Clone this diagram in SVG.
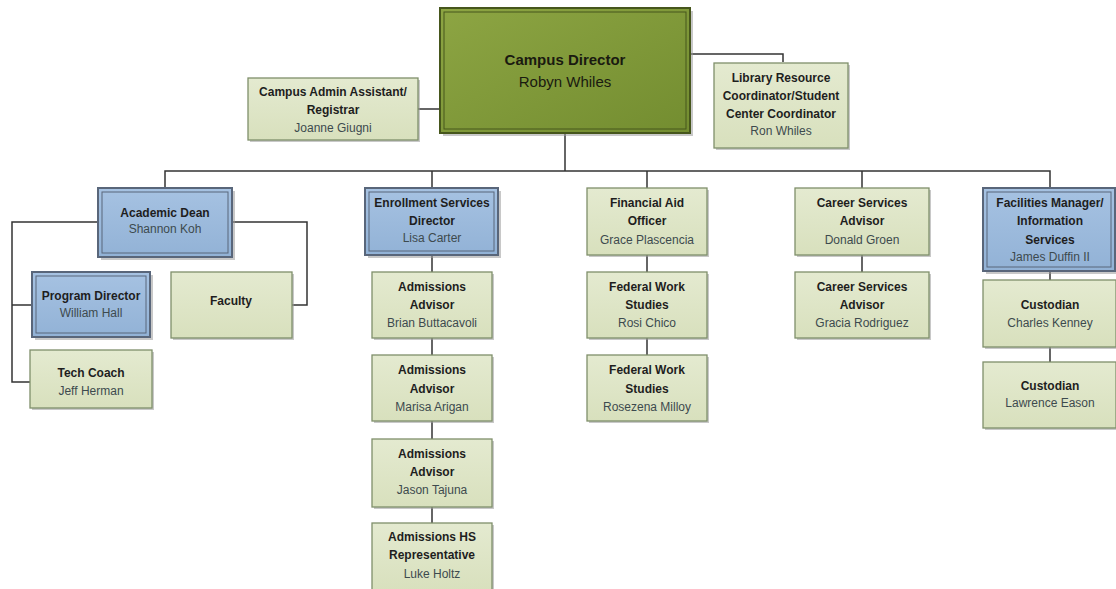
<svg xmlns="http://www.w3.org/2000/svg" width="1116" height="589" viewBox="0 0 1116 589">
<defs>
<linearGradient id="gOlive" x1="0" y1="0" x2="1" y2="1">
<stop offset="0" stop-color="#8da543"/>
<stop offset="1" stop-color="#738d30"/>
</linearGradient>
<linearGradient id="gGreen" x1="0" y1="0" x2="0" y2="1">
<stop offset="0" stop-color="#e4ead0"/>
<stop offset="1" stop-color="#d8e0bd"/>
</linearGradient>
<linearGradient id="gBlue" x1="0" y1="0" x2="0" y2="1">
<stop offset="0" stop-color="#a6c2e2"/>
<stop offset="1" stop-color="#92b2d6"/>
</linearGradient>
</defs>
<style>
.sh{fill:#9a9a9a;opacity:0.55}
.lg{fill:url(#gGreen);stroke:#7f8f6a;stroke-width:1.3}
.bl{fill:url(#gBlue);stroke:#59667a;stroke-width:2}
.blin{fill:none;stroke:#59667a;stroke-width:1}
.ol{fill:url(#gOlive);stroke:#46561c;stroke-width:2}
.olin{fill:none;stroke:#46561c;stroke-width:1}
.t{font-family:"Liberation Sans",Arial,sans-serif;font-size:12px;font-weight:bold;fill:#1e1e1e;text-anchor:middle}
.n{font-family:"Liberation Sans",Arial,sans-serif;font-size:12px;fill:#3d4a4e;text-anchor:middle}
.ct{font-family:"Liberation Sans",Arial,sans-serif;font-size:15px;font-weight:bold;fill:#1a1a10;text-anchor:middle}
.cn{font-family:"Liberation Sans",Arial,sans-serif;font-size:15px;fill:#1a1a10;text-anchor:middle}
.c{fill:none;stroke:#333;stroke-width:1.5}
</style>
<g id="connectors">
<polyline class="c" points="418,109 441,109"/>
<polyline class="c" points="690,54 783,54 783,62"/>
<polyline class="c" points="565,133 565,171"/>
<polyline class="c" points="165,188 165,171 1050,171 1050,188"/>
<polyline class="c" points="432,171 432,188"/>
<polyline class="c" points="647,171 647,188"/>
<polyline class="c" points="862,171 862,188"/>
<polyline class="c" points="98,222 12,222 12,382 30,382"/>
<polyline class="c" points="12,305 32,305"/>
<polyline class="c" points="232,222 307,222 307,305 292,305"/>
<polyline class="c" points="432,255 432,272"/>
<polyline class="c" points="432,338 432,355"/>
<polyline class="c" points="432,421 432,439"/>
<polyline class="c" points="432,507 432,523"/>
<polyline class="c" points="647,255 647,272"/>
<polyline class="c" points="647,338 647,355"/>
<polyline class="c" points="862,255 862,272"/>
<polyline class="c" points="1050,271 1050,280"/>
<polyline class="c" points="1050,347 1050,362"/>
</g>
<g id="campus-director">
<rect class="sh" x="443" y="11" width="250" height="125"/>
<rect class="ol" x="440" y="8" width="250" height="125"/>
<rect class="olin" x="444" y="12" width="242" height="117"/>
<text class="ct" x="565" y="65">Campus Director</text>
<text class="cn" x="565" y="87">Robyn Whiles</text>
</g>
<g id="admin-assistant">
<rect class="sh" x="250" y="80" width="170" height="62"/>
<rect class="lg" x="248" y="78" width="170" height="62"/>
<text class="t" x="333" y="96">Campus Admin Assistant/</text>
<text class="t" x="333" y="114">Registrar</text>
<text class="n" x="333" y="132">Joanne Giugni</text>
</g>
<g id="library">
<rect class="sh" x="716" y="65" width="134" height="85"/>
<rect class="lg" x="714" y="63" width="134" height="85"/>
<text class="t" x="781" y="82">Library Resource</text>
<text class="t" x="781" y="100">Coordinator/Student</text>
<text class="t" x="781" y="118">Center Coordinator</text>
<text class="n" x="781" y="135">Ron Whiles</text>
</g>
<g id="academic-dean">
<rect class="sh" x="101" y="191" width="134" height="69"/>
<rect class="bl" x="98" y="188" width="134" height="69"/>
<rect class="blin" x="102" y="192" width="126" height="61"/>
<text class="t" x="165" y="217">Academic Dean</text>
<text class="n" x="165" y="233">Shannon Koh</text>
</g>
<g id="program-director">
<rect class="sh" x="35" y="275" width="118" height="65"/>
<rect class="bl" x="32" y="272" width="118" height="65"/>
<rect class="blin" x="36" y="276" width="110" height="57"/>
<text class="t" x="91" y="300">Program Director</text>
<text class="n" x="91" y="317">William Hall</text>
</g>
<g id="faculty">
<rect class="sh" x="173" y="274" width="121" height="66"/>
<rect class="lg" x="171" y="272" width="121" height="66"/>
<text class="t" x="231" y="305">Faculty</text>
</g>
<g id="tech-coach">
<rect class="sh" x="32" y="352" width="122" height="58"/>
<rect class="lg" x="30" y="350" width="122" height="58"/>
<text class="t" x="91" y="377">Tech Coach</text>
<text class="n" x="91" y="395">Jeff Herman</text>
</g>
<g id="enrollment-director">
<rect class="sh" x="368" y="191" width="133" height="67"/>
<rect class="bl" x="365" y="188" width="133" height="67"/>
<rect class="blin" x="369" y="192" width="125" height="59"/>
<text class="t" x="432" y="207">Enrollment Services</text>
<text class="t" x="432" y="225">Director</text>
<text class="n" x="432" y="242">Lisa Carter</text>
</g>
<g id="admissions-1">
<rect class="sh" x="374" y="274" width="120" height="66"/>
<rect class="lg" x="372" y="272" width="120" height="66"/>
<text class="t" x="432" y="291">Admissions</text>
<text class="t" x="432" y="309">Advisor</text>
<text class="n" x="432" y="327">Brian Buttacavoli</text>
</g>
<g id="admissions-2">
<rect class="sh" x="374" y="357" width="120" height="66"/>
<rect class="lg" x="372" y="355" width="120" height="66"/>
<text class="t" x="432" y="374">Admissions</text>
<text class="t" x="432" y="393">Advisor</text>
<text class="n" x="432" y="411">Marisa Arigan</text>
</g>
<g id="admissions-3">
<rect class="sh" x="374" y="441" width="120" height="68"/>
<rect class="lg" x="372" y="439" width="120" height="68"/>
<text class="t" x="432" y="458">Admissions</text>
<text class="t" x="432" y="476">Advisor</text>
<text class="n" x="432" y="494">Jason Tajuna</text>
</g>
<g id="admissions-hs">
<rect class="sh" x="374" y="525" width="120" height="68"/>
<rect class="lg" x="372" y="523" width="120" height="68"/>
<text class="t" x="432" y="541">Admissions HS</text>
<text class="t" x="432" y="559">Representative</text>
<text class="n" x="432" y="578">Luke Holtz</text>
</g>
<g id="financial-aid">
<rect class="sh" x="589" y="190" width="120" height="67"/>
<rect class="lg" x="587" y="188" width="120" height="67"/>
<text class="t" x="647" y="207">Financial Aid</text>
<text class="t" x="647" y="225">Officer</text>
<text class="n" x="647" y="244">Grace Plascencia</text>
</g>
<g id="federal-work-1">
<rect class="sh" x="589" y="274" width="120" height="66"/>
<rect class="lg" x="587" y="272" width="120" height="66"/>
<text class="t" x="647" y="291">Federal Work</text>
<text class="t" x="647" y="309">Studies</text>
<text class="n" x="647" y="327">Rosi Chico</text>
</g>
<g id="federal-work-2">
<rect class="sh" x="589" y="357" width="120" height="66"/>
<rect class="lg" x="587" y="355" width="120" height="66"/>
<text class="t" x="647" y="374">Federal Work</text>
<text class="t" x="647" y="393">Studies</text>
<text class="n" x="647" y="411">Rosezena Milloy</text>
</g>
<g id="career-1">
<rect class="sh" x="797" y="190" width="134" height="67"/>
<rect class="lg" x="795" y="188" width="134" height="67"/>
<text class="t" x="862" y="207">Career Services</text>
<text class="t" x="862" y="225">Advisor</text>
<text class="n" x="862" y="244">Donald Groen</text>
</g>
<g id="career-2">
<rect class="sh" x="797" y="274" width="134" height="66"/>
<rect class="lg" x="795" y="272" width="134" height="66"/>
<text class="t" x="862" y="291">Career Services</text>
<text class="t" x="862" y="309">Advisor</text>
<text class="n" x="862" y="327">Gracia Rodriguez</text>
</g>
<g id="facilities-manager">
<rect class="sh" x="986" y="191" width="133" height="83"/>
<rect class="bl" x="983" y="188" width="132" height="83"/>
<rect class="blin" x="987" y="192" width="124" height="75"/>
<text class="t" x="1050" y="207">Facilities Manager/</text>
<text class="t" x="1050" y="225">Information</text>
<text class="t" x="1050" y="244">Services</text>
<text class="n" x="1050" y="261">James Duffin II</text>
</g>
<g id="custodian-1">
<rect class="sh" x="985" y="282" width="133" height="67"/>
<rect class="lg" x="983" y="280" width="133" height="67"/>
<text class="t" x="1050" y="309">Custodian</text>
<text class="n" x="1050" y="327">Charles Kenney</text>
</g>
<g id="custodian-2">
<rect class="sh" x="985" y="364" width="133" height="66"/>
<rect class="lg" x="983" y="362" width="133" height="66"/>
<text class="t" x="1050" y="390">Custodian</text>
<text class="n" x="1050" y="407">Lawrence Eason</text>
</g>
</svg>
